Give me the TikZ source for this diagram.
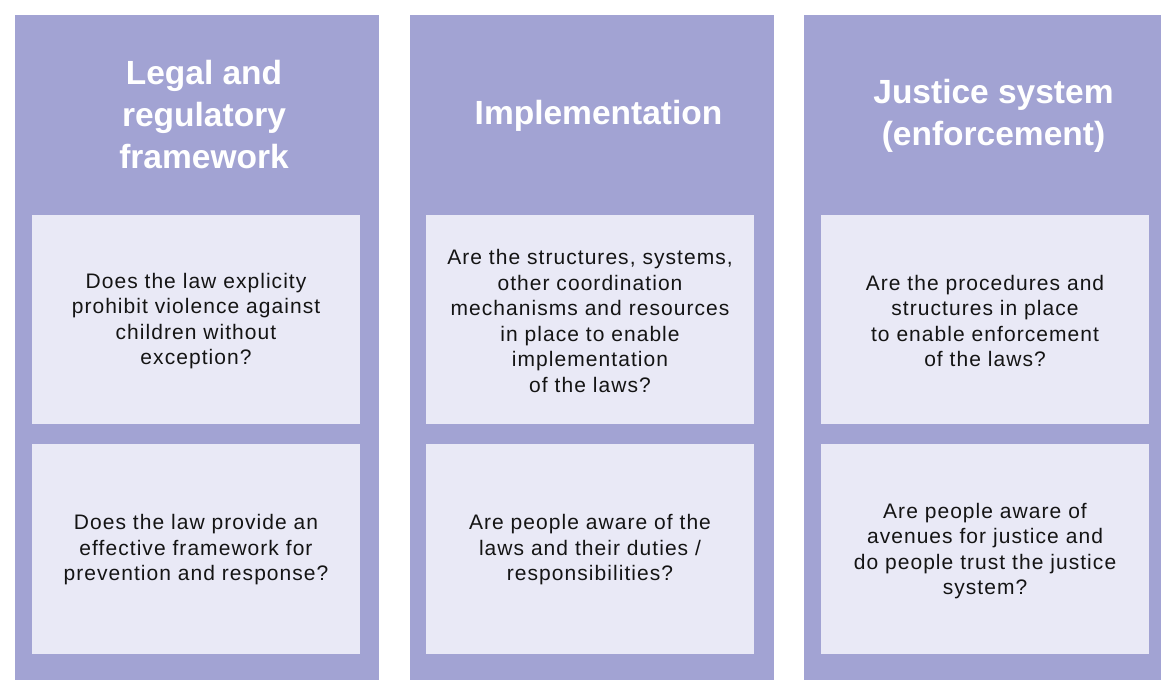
\documentclass[tikz,border=0pt]{standalone}
\usepackage{fontspec}
\setmainfont{Liberation Sans}
\newfontfamily\bodyfont[LetterSpace=5]{Liberation Sans}
\definecolor{colpurple}{RGB}{162,163,211}
\definecolor{boxlight}{RGB}{233,233,246}
\definecolor{bodytext}{RGB}{20,20,20}
\tikzset{
  column/.style={fill=colpurple, draw=none, rectangle, anchor=north west, inner sep=0pt, minimum width=364pt, minimum height=665pt},
  qbox/.style={fill=boxlight, draw=none, rectangle, anchor=north west, inner sep=0pt, minimum width=328pt, minimum height=209.5pt},
  header/.style={text=white, align=center, inner sep=0pt, font=\fontsize{33.5pt}{42pt}\selectfont\bfseries},
  question/.style={text=bodytext, align=center, inner sep=0pt, font=\bodyfont\fontsize{21pt}{25.5pt}\selectfont}
}
\begin{document}
\begin{tikzpicture}[x=1pt, y=-1pt]
\clip (0,0) rectangle (1161,680);
\fill[white] (0,0) rectangle (1161,680);
% columns
\node[column] (c1) at (15,15) {};
\node[column] (c2) at (410,15) {};
\node[column] (c3) at (804,15) {};
% question boxes
\node[qbox] (b11) at (32,214.5) {};
\node[qbox] (b12) at (32,444) {};
\node[qbox] (b21) at (426,214.5) {};
\node[qbox] (b22) at (426,444) {};
\node[qbox] (b31) at (821,214.5) {};
\node[qbox] (b32) at (821,444) {};
% headers
\node[header] (h1) at (204,115) {Legal and\\regulatory\\framework};
\node[header] (h2) at (598.5,115.5) {Implementation};
\node[header] (h3) at (993.5,115.5) {Justice system\\(enforcement)};
% questions
\node[question] (q11) at (196,321) {Does the law explicity\\prohibit violence against\\children without\\exception?};
\node[question] (q12) at (196,550) {Does the law provide an\\effective framework for\\prevention and response?};
\node[question] (q21) at (590,321) {Are the structures, systems,\\other coordination\\mechanisms and resources\\in place to enable\\implementation\\of the laws?};
\node[question] (q22) at (590,550) {Are people aware of the\\laws and their duties /\\responsibilities?};
\node[question] (q31) at (985,321) {Are the procedures and\\structures in place\\to enable enforcement\\of the laws?};
\node[question] (q32) at (985,551) {Are people aware of\\avenues for justice and\\do people trust the justice\\system?};
\end{tikzpicture}
\end{document}
